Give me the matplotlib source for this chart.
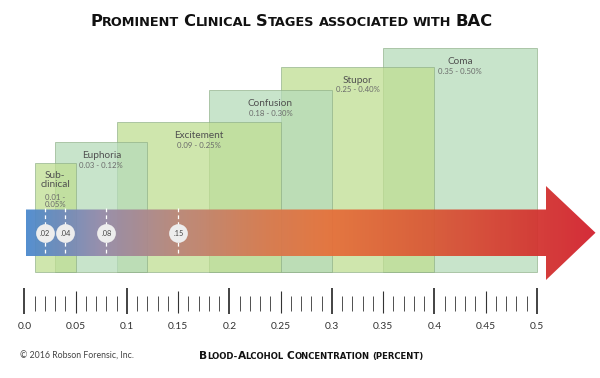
import numpy as np
import matplotlib
matplotlib.use("Agg")
import matplotlib.pyplot as plt
from matplotlib.patches import Rectangle, Polygon
from matplotlib.colors import LinearSegmentedColormap
from matplotlib.transforms import IdentityTransform

plt.rcParams['font.family'] = ['Lato', 'DejaVu Sans']

# stages (BAC ranges in percent)
stage_names = ["Sub-\nclinical", "Euphoria", "Excitement", "Confusion", "Stupor", "Coma"]
stage_ranges = ["0.01 -\n0.05%", "0.03 - 0.12%", "0.09 - 0.25%", "0.18 - 0.30%", "0.25 - 0.40%", "0.35 - 0.50%"]
stage_lo = [0.01, 0.03, 0.09, 0.18, 0.25, 0.35]
stage_hi = [0.05, 0.12, 0.25, 0.30, 0.40, 0.50]

# marked BAC levels on the arrow
marks = [0.02, 0.04, 0.08, 0.15]
mark_labels = [".02", ".04", ".08", ".15"]

# scale
major_ticks = [0.0, 0.1, 0.2, 0.3, 0.4, 0.5]
half_ticks = [0.05, 0.15, 0.25, 0.35, 0.45]
label_ticks = [0.0, 0.05, 0.1, 0.15, 0.2, 0.25, 0.3, 0.35, 0.4, 0.45, 0.5]
tick_labels = ["0.0", "0.05", "0.1", "0.15", "0.2", "0.25", "0.3", "0.35", "0.4", "0.45", "0.5"]

W, H = 600, 378
X0, SCALE = 24.5, 1025.0   # pixel of 0.0 and pixels per 1.0 BAC

fig = plt.figure(figsize=(W / 100, H / 100), dpi=100)
ax = fig.add_axes([0, 0, 1, 1])
ax.set_xlim(-X0 / SCALE, (W - X0) / SCALE)
ax.set_ylim(H, 0)
ax.axis('off')

mint = '#b6dbba'
yg = '#bfde92'
box_tops = [163, 142, 122, 90, 67, 48]
box_bottom = 272
n = len(stage_names)
for i, (name, rng, lo, hi) in enumerate(zip(stage_names, stage_ranges, stage_lo, stage_hi)):
    c = yg if i % 2 == 0 else mint
    top = box_tops[i]
    z = 1 + (n - i) * 0.1   # earlier stages sit on top
    ax.add_patch(Rectangle((lo, top), hi - lo, box_bottom - top, facecolor=c, alpha=0.75,
                           edgecolor=(0.55, 0.68, 0.52, 0.35), lw=0.6, zorder=z))
    cx = (lo + hi) / 2
    if "\n" in name:
        ax.text(cx, top + 17, name, ha='center', va='center', fontsize=7.2, color='#505050',
                linespacing=1.05, zorder=2)
        ax.text(cx, top + 38, rng, ha='center', va='center', fontsize=5.6, color='#6a6a6a',
                linespacing=1.1, zorder=2)
    else:
        ax.text(cx, top + 13.5, name, ha='center', va='center', fontsize=7.2, color='#505050', zorder=2)
        ax.text(cx, top + 23, rng, ha='center', va='center', fontsize=5.6, color='#6a6a6a', zorder=2)

# gradient arrow
shaft_top, shaft_bot = 209.5, 256
head_top, head_bot = 186, 280
x_start, x_head, x_tip = 0.001, (546 - X0) / SCALE, (595.5 - X0) / SCALE
mid = (shaft_top + shaft_bot) / 2
arrow = Polygon([(x_start, shaft_top), (x_head, shaft_top), (x_head, head_top), (x_tip, mid),
                 (x_head, head_bot), (x_head, shaft_bot), (x_start, shaft_bot)],
                closed=True, facecolor='none', edgecolor='none')
ax.add_patch(arrow)
stops = [(0.0, '#4a88cc'), (0.13, '#958aaa'), (0.27, '#bb8577'), (0.42, '#d8784e'),
         (0.53, '#e6703a'), (0.71, '#da5735'), (0.91, '#d3302e'), (1.0, '#d21f2b')]
cmap = LinearSegmentedColormap.from_list('bac', stops)
grad = np.linspace(0, 1, 512).reshape(1, -1)
im = ax.imshow(grad, cmap=cmap, aspect='auto', extent=(x_start, x_tip, head_bot, head_top),
               alpha=0.94, zorder=3, interpolation='bilinear')
im.set_clip_path(arrow)

# marks
for m, lab in zip(marks, mark_labels):
    ax.plot([m, m], [shaft_top - 1.5, shaft_bot], color='white', lw=0.9, ls=(0, (3, 2.5)), zorder=4)
    ax.plot([m], [mid], marker='o', ms=13.5, color='#ededed', mec='none', zorder=5)
    ax.text(m, mid + 0.3, lab, ha='center', va='center', fontsize=5.3, color='#444444', zorder=6)

# scale ticks
minor = [t / 100 for t in range(51) if t % 5 != 0]
ax.vlines(major_ticks, 288, 314, color='#222222', lw=1.2)
ax.vlines(half_ticks, 291, 313, color='#333333', lw=0.8)
ax.vlines(minor, 295.5, 311, color='#333333', lw=0.6)
for t, lab in zip(label_ticks, tick_labels):
    ax.text(t, 326.5, lab, ha='center', va='center', fontsize=7.4, color='#333333')


def small_caps(text, cx, cy, big, small, color='#111111'):
    r = fig.canvas.get_renderer()
    runs = []
    for ch in text:
        size = big if (ch.isupper()) else small
        if ch == ' ':
            size = None
        if runs and runs[-1][1] == size and size is not None:
            runs[-1][0] += ch
        else:
            runs.append([ch if size is not None else '', size])
    objs, widths = [], []
    for s, size in runs:
        if size is None:
            objs.append(None)
            widths.append(0.27 * big * 100 / 72)
            continue
        t = fig.text(0, 0, s.upper(), fontsize=size, fontweight='bold', color=color,
                     family='DejaVu Sans', transform=IdentityTransform(), ha='left', va='baseline')
        objs.append(t)
        widths.append(t.get_window_extent(r).width)
    x = cx - sum(widths) / 2
    base = H - cy
    for t, w in zip(objs, widths):
        if t is not None:
            t.set_position((x, base))
        x += w


small_caps("Prominent Clinical Stages associated with BAC", 291.5, 26.5, 11.8, 9.3)
small_caps("Blood-Alcohol Concentration (percent)", 311.5, 359, 7.7, 6.1)
fig.text(20 / W, 1 - 356 / H, "\u00a9 2016 Robson Forensic, Inc.", fontsize=6.3, color='#444444',
         ha='left', va='center')

fig.savefig("out.png", dpi=100)
